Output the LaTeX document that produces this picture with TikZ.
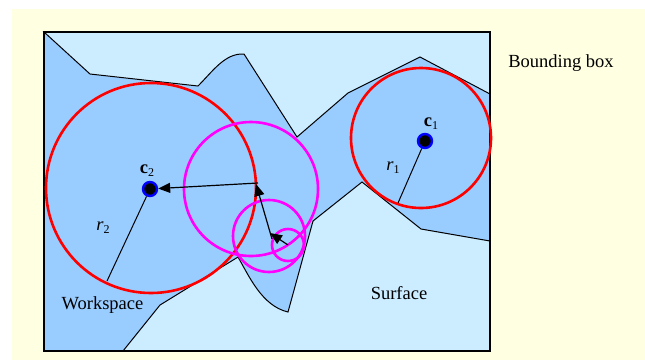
\documentclass[tikz,border=0pt]{standalone}
\usepackage{fontspec}
\setmainfont{Liberation Serif}
\usetikzlibrary{arrows.meta}
\definecolor{bgyellow}{RGB}{255,255,226}
\definecolor{surf}{RGB}{204,236,255}
\definecolor{work}{RGB}{153,204,255}
\definecolor{mag}{RGB}{255,0,255}
\definecolor{rd}{RGB}{255,0,0}
\definecolor{bl}{RGB}{0,0,255}
\begin{document}
\begin{tikzpicture}[x=1pt,y=-1pt,
  edge/.style={draw=black,line width=1pt,line join=miter},
  redc/.style={draw=rd,line width=2.6pt},
  magc/.style={draw=mag,line width=2.6pt},
  dot/.style={circle,fill=black,draw=bl,line width=2.4pt,minimum size=14pt,inner sep=0pt},
  lbl/.style={inner sep=0pt,font=\fontsize{18.5pt}{20pt}\selectfont},
  vec/.style={draw=black,line width=1.2pt,-{Triangle[length=12pt,width=10pt]}},
  rad/.style={draw=black,line width=1pt}]
\useasboundingbox (0,0) rectangle (645,360);
\fill[bgyellow] (12,9) rectangle (645,360);
\fill[work] (44,32) rectangle (490,351);
% upper surface
\path[fill=surf,edge] (44,32) -- (90,74) -- (198,86)
  .. controls (213,71) and (225,53) .. (244,54)
  -- (297,137) -- (348,93) -- (420,57) -- (490,94) -- (490,32) -- cycle;
% lower surface
\path[fill=surf,edge] (123,351) -- (160,305) -- (238,257)
  .. controls (249,276) and (262,306) .. (288,312)
  -- (313,221) -- (362,182) -- (421,229) -- (490,241) -- (490,351) -- cycle;
% bounding box
\draw[black,line width=1.6pt] (44,32) rectangle (490,351);
% red circles
\draw[redc] (151,188) circle[radius=105];
\draw[redc] (421,138) circle[radius=70];
% magenta circles
\draw[magc] (251,189) circle[radius=67];
\draw[magc] (269,236) circle[radius=36];
\draw[magc] (288,245) circle[radius=16];
% centres
\node[dot] (c1) at (425,141) {};
\node[dot] (c2) at (150,189) {};
\coordinate (r1e) at (398,203);
\coordinate (r2e) at (107,281);
\draw[rad] (c1) -- (r1e);
\draw[rad] (c2) -- (r2e);
% arrows
\coordinate (m1) at (288,245);
\coordinate (m1t) at (270,233);
\coordinate (m2) at (272,239);
\coordinate (m2t) at (256,184);
\coordinate (m3) at (258,183);
\draw[vec] (m1) -- (m1t);
\draw[vec] (m2) -- (m2t);
\draw[vec] (m3) -- (c2);
% labels
\node[lbl] (lc1) at (431,124) {\textbf{c}\raisebox{-0.35ex}{\fontsize{12pt}{12pt}\selectfont 1}};
\node[lbl] (lc2) at (147,171) {\textbf{c}\raisebox{-0.35ex}{\fontsize{12pt}{12pt}\selectfont 2}};
\node[lbl] (lr1) at (393,168) {\textit{r}\raisebox{-0.35ex}{\fontsize{12pt}{12pt}\selectfont 1}};
\node[lbl] (lr2) at (103,228) {\textit{r}\raisebox{-0.35ex}{\fontsize{12pt}{12pt}\selectfont 2}};
\node[lbl] (ws) at (102.5,305) {Workspace};
\node[lbl] (sf) at (399,293) {Surface};
\node[lbl] (bb) at (561,63) {Bounding box};
\end{tikzpicture}
\end{document}
